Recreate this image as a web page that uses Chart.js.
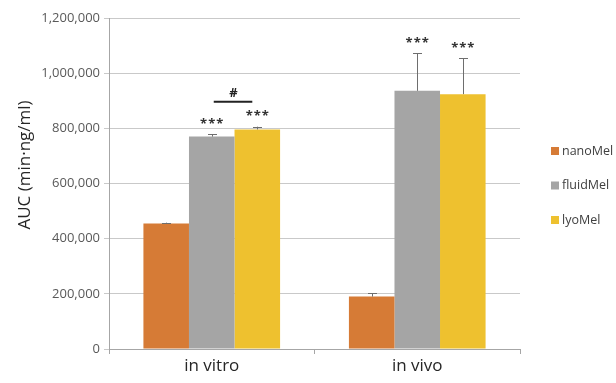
<!DOCTYPE html>
<html>
<head>
<meta charset="utf-8">
<script src="https://cdn.jsdelivr.net/npm/chart.js@4"></script>
<style>
html,body{margin:0;padding:0;background:#fff;}
#wrap{width:616px;height:383px;position:relative;}
</style>
</head>
<body>
<div id="wrap"><canvas id="c" width="616" height="383"></canvas></div>
<script>
const categories = ["in vitro", "in vivo"];
const seriesNames = ["nanoMel", "fluidMel", "lyoMel"];
const nanoMel = [455000, 190000];
const fluidMel = [770000, 936000];
const lyoMel = [796000, 924000];
const nanoMelErr = [3000, 12000];
const fluidMelErr = [8000, 136000];
const lyoMelErr = [10000, 130000];
const nanoMelSig = ["", ""];
const fluidMelSig = ["***", "***"];
const lyoMelSig = ["***", "***"];
const yTicks = [0, 200000, 400000, 600000, 800000, 1000000, 1200000];
const yTitle = "AUC (min\u00B7ng/ml)";
const hashLabel = "#";

const colors = ["#D67B36", "#A5A5A5", "#EEC12F"];
const FONT = "'Open Sans', 'DejaVu Sans', sans-serif";

const errs = [nanoMelErr, fluidMelErr, lyoMelErr];
const sigs = [nanoMelSig, fluidMelSig, lyoMelSig];

const annotPlugin = {
  id: 'annot',
  afterDatasetsDraw(chart) {
    const ctx = chart.ctx;
    const y = chart.scales.y;
    const errTops = [];
    chart.data.datasets.forEach((ds, di) => {
      const meta = chart.getDatasetMeta(di);
      errTops[di] = [];
      meta.data.forEach((bar, i) => {
        const v = ds.data[i];
        const top = y.getPixelForValue(v + errs[di][i]);
        const base = y.getPixelForValue(v);
        errTops[di][i] = top;
        ctx.save();
        ctx.strokeStyle = '#6E6E6E';
        ctx.lineWidth = 1;
        ctx.beginPath();
        ctx.moveTo(Math.round(bar.x) + 0.5, base);
        ctx.lineTo(Math.round(bar.x) + 0.5, top);
        ctx.moveTo(Math.round(bar.x) - 4, Math.round(top) + 0.5);
        ctx.lineTo(Math.round(bar.x) + 5, Math.round(top) + 0.5);
        ctx.stroke();
        const s = sigs[di][i];
        if (s) {
          ctx.fillStyle = '#333333';
          ctx.font = "bold 13px " + FONT;
          ctx.textAlign = 'center';
          ctx.textBaseline = 'middle';
          try { ctx.letterSpacing = '1px'; } catch (e) {}
          ctx.fillText(s, bar.x + 0.5, top - 10);
        }
        ctx.restore();
      });
    });
    // significance bracket between fluidMel and lyoMel, in vitro
    const g = chart.getDatasetMeta(1).data[0];
    const l = chart.getDatasetMeta(2).data[0];
    const by = Math.min(errTops[1][0], errTops[2][0]) - 25;
    ctx.save();
    ctx.strokeStyle = '#222';
    ctx.lineWidth = 2;
    ctx.beginPath();
    ctx.moveTo(g.x + 2, by);
    ctx.lineTo(l.x - 5, by);
    ctx.stroke();
    ctx.fillStyle = '#222';
    ctx.font = "bold 13px " + FONT;
    ctx.textAlign = 'center';
    ctx.textBaseline = 'middle';
    ctx.fillText(hashLabel, (g.x + l.x) / 2 - 1, by - 8);
    ctx.restore();
  },
  afterDraw(chart) {
    const ctx = chart.ctx;
    const area = chart.chartArea;
    ctx.save();
    chart.data.datasets.forEach((ds, di) => {
      const cy = 151 + di * 34.5;
      const bx = area.right + 31;
      ctx.fillStyle = ds.backgroundColor;
      ctx.fillRect(bx, cy - 4, 8, 8);
      ctx.fillStyle = '#404040';
      ctx.font = "12.5px " + FONT;
      ctx.textAlign = 'left';
      ctx.textBaseline = 'middle';
      ctx.fillText(ds.label, bx + 11, cy);
    });
    // y-axis title
    ctx.translate(25, 165);
    ctx.rotate(-Math.PI / 2);
    ctx.fillStyle = '#262626';
    ctx.font = "17px " + FONT;
    ctx.textAlign = 'center';
    ctx.textBaseline = 'middle';
    ctx.fillText(yTitle, 0, 0);
    ctx.restore();
  }
};

new Chart(document.getElementById('c'), {
  type: 'bar',
  data: {
    labels: categories,
    datasets: [
      { label: seriesNames[0], data: nanoMel, backgroundColor: colors[0] },
      { label: seriesNames[1], data: fluidMel, backgroundColor: colors[1] },
      { label: seriesNames[2], data: lyoMel, backgroundColor: colors[2] }
    ]
  },
  options: {
    responsive: false,
    animation: false,
    devicePixelRatio: 1,
    layout: { padding: { top: 18, right: 96, bottom: 0, left: 0 } },
    datasets: { bar: { categoryPercentage: 0.665, barPercentage: 1.0 } },
    plugins: { legend: { display: false }, tooltip: { enabled: false } },
    scales: {
      x: {
        offset: true,
        grid: { offset: true, drawOnChartArea: false, drawTicks: true, tickLength: 5, color: '#A6A6A6' },
        border: { color: '#A6A6A6' },
        ticks: { color: '#262626', font: { family: FONT, size: 17 }, padding: 2 },
        afterFit(s) { s.height = 34; }
      },
      y: {
        min: 0, max: 1200000,
        afterBuildTicks(s) { s.ticks = yTicks.map(v => ({ value: v })); },
        grid: { color: '#C9C9C9', tickLength: 5, drawTicks: true },
        border: { color: '#A6A6A6' },
        ticks: {
          color: '#595959', font: { family: FONT, size: 13 }, padding: 4,
          callback: v => v.toLocaleString('en-US')
        },
        title: { display: false },
        afterFit(s) { s.width = 109; }
      }
    }
  },
  plugins: [annotPlugin]
});
</script>
</body>
</html>
